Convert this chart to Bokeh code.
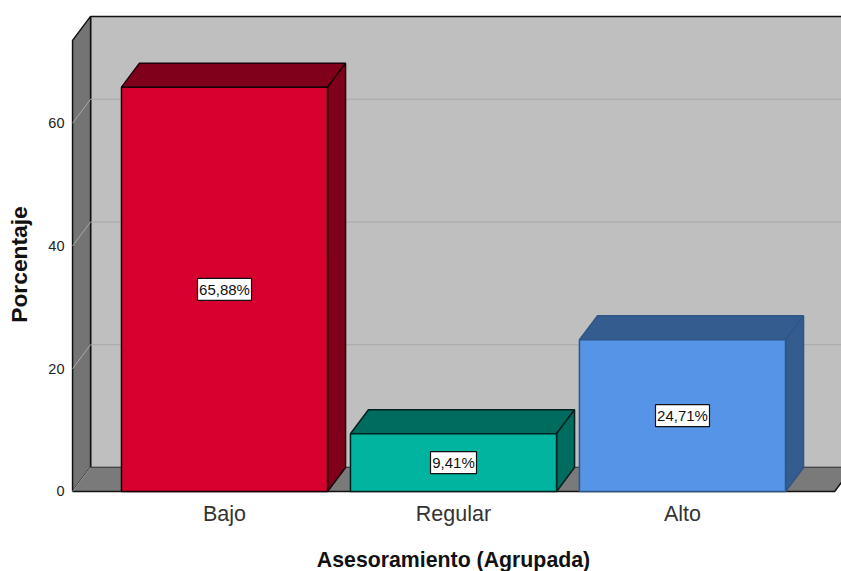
from bokeh.plotting import figure
from bokeh.embed import file_html
from bokeh.resources import INLINE
from bokeh.models import Range1d, FixedTicker, LinearAxis
from bokeh.core.properties import value

# Chart data
categories = ["Bajo", "Regular", "Alto"]
percentages = [65.88, 9.41, 24.71]
value_labels = ["65,88%", "9,41%", "24,71%"]
y_ticks = [0, 20, 40, 60]
grid_levels = [20, 40, 60]
x_title = "Asesoramiento (Agrupada)"
y_title = "Porcentaje"

# Styling per bar: front face, side faces, outline
front_colors = ["#d6002f", "#00b4a0", "#5594e6"]
side_colors = ["#80001c", "#006b5f", "#345c8f"]
edge_colors = ["#1a0006", "#00211d", "#2f5687"]

# Geometry of the pseudo-3D box, in data units
BAR_WIDTH = 0.9
DEPTH_X = 18 / 229
DEPTH_Y = 24 / 6.14
WALL_TOP = 73.5
X_LEFT = -0.6636
X_RIGHT = 2.6644
Y_AXIS_AT = -0.6726
X_AXIS_AT = -0.33

p = figure(
    width=841, height=571,
    x_range=Range1d(-0.9783, 2.6944), y_range=Range1d(-13.04, 80),
    output_backend="svg", toolbar_location=None,
    min_border_left=0, min_border_right=0, min_border_top=0, min_border_bottom=0,
    x_axis_location=None, y_axis_location=None,
    background_fill_color="white", border_fill_color="white", outline_line_color=None,
)
p.grid.visible = False

# Back wall, side wall and floor
p.patch([X_LEFT + DEPTH_X, X_RIGHT + 1, X_RIGHT + 1, X_LEFT + DEPTH_X],
        [DEPTH_Y, DEPTH_Y, WALL_TOP + DEPTH_Y, WALL_TOP + DEPTH_Y],
        fill_color="#bfbfbf", line_color="#111111", line_width=1.5)
p.patch([X_LEFT, X_LEFT + DEPTH_X, X_LEFT + DEPTH_X, X_LEFT],
        [0, DEPTH_Y, WALL_TOP + DEPTH_Y, WALL_TOP],
        fill_color="#747474", line_color="#111111", line_width=1.5)
p.patch([X_LEFT, X_LEFT + DEPTH_X, X_RIGHT + DEPTH_X, X_RIGHT],
        [0, DEPTH_Y, DEPTH_Y, 0],
        fill_color="#7a7a7a", line_color=None)
p.line([X_LEFT, X_RIGHT, X_RIGHT + DEPTH_X], [0, 0, DEPTH_Y], line_color="#111111", line_width=1.5)
p.line([X_LEFT, X_LEFT + DEPTH_X], [0, DEPTH_Y], line_color="#9a9a9a", line_width=1)

# Grid lines on the back wall, folding down the side wall
for level in grid_levels:
    p.line([X_LEFT, X_LEFT + DEPTH_X, X_RIGHT + 1],
           [level, level + DEPTH_Y, level + DEPTH_Y],
           line_color="#a8a8a8", line_width=1)

# Bars: side and top faces first, then the front
for i, pct in enumerate(percentages):
    x0 = i - BAR_WIDTH / 2
    x1 = i + BAR_WIDTH / 2
    p.patch([x0, x0 + DEPTH_X, x1 + DEPTH_X, x1],
            [pct, pct + DEPTH_Y, pct + DEPTH_Y, pct],
            fill_color=side_colors[i], line_color=edge_colors[i], line_width=1.5)
    p.patch([x1, x1 + DEPTH_X, x1 + DEPTH_X, x1],
            [0, DEPTH_Y, pct + DEPTH_Y, pct],
            fill_color=side_colors[i], line_color=edge_colors[i], line_width=1.5)
    p.quad(left=x0, right=x1, bottom=0, top=pct,
           fill_color=front_colors[i], line_color=edge_colors[i], line_width=1.5)

# Value boxes centred on each bar's front face
label_x = list(range(len(percentages)))
label_y = [pct / 2 for pct in percentages]
box_widths = [54 if len(t) > 5 else 46 for t in value_labels]
p.rect(label_x, label_y, width=box_widths, height=22,
       width_units="screen", height_units="screen",
       fill_color="white", line_color="#111111", line_width=1.2)
p.text(label_x, label_y, text=value_labels, text_align="center", text_baseline="middle",
       text_font=value("Liberation Sans"), text_font_size="15px", text_color="#111111")

# Axes sit at fixed positions inside the full-canvas frame
left_axis = LinearAxis(ticker=FixedTicker(ticks=y_ticks), fixed_location=Y_AXIS_AT, bounds=(0, 74))
left_axis.axis_line_color = None
left_axis.major_tick_line_color = None
left_axis.minor_tick_line_color = None
left_axis.major_tick_out = 0
left_axis.major_label_standoff = 6
left_axis.major_label_text_font = "Liberation Sans"
left_axis.major_label_text_font_size = "14.5px"
left_axis.major_label_text_color = "#222222"
left_axis.axis_label = y_title
left_axis.axis_label_text_font = "Liberation Sans"
left_axis.axis_label_text_font_style = "bold"
left_axis.axis_label_text_font_size = "22.8px"
left_axis.axis_label_text_color = "#111111"
left_axis.axis_label_standoff = 13
p.add_layout(left_axis, "left")

bottom_axis = LinearAxis(ticker=FixedTicker(ticks=label_x), fixed_location=X_AXIS_AT, bounds=(0, 2),
                         major_label_overrides={i: c for i, c in enumerate(categories)})
bottom_axis.axis_line_color = None
bottom_axis.major_tick_line_color = None
bottom_axis.minor_tick_line_color = None
bottom_axis.major_tick_out = 0
bottom_axis.major_label_standoff = 9
bottom_axis.major_label_text_font = "Liberation Sans"
bottom_axis.major_label_text_font_size = "21.5px"
bottom_axis.major_label_text_color = "#333333"
bottom_axis.axis_label = x_title
bottom_axis.axis_label_text_font = "Liberation Sans"
bottom_axis.axis_label_text_font_style = "bold"
bottom_axis.axis_label_text_font_size = "21.3px"
bottom_axis.axis_label_text_color = "#111111"
bottom_axis.axis_label_standoff = 18
p.add_layout(bottom_axis, "below")

open("out.html", "w").write(file_html(p, INLINE))
